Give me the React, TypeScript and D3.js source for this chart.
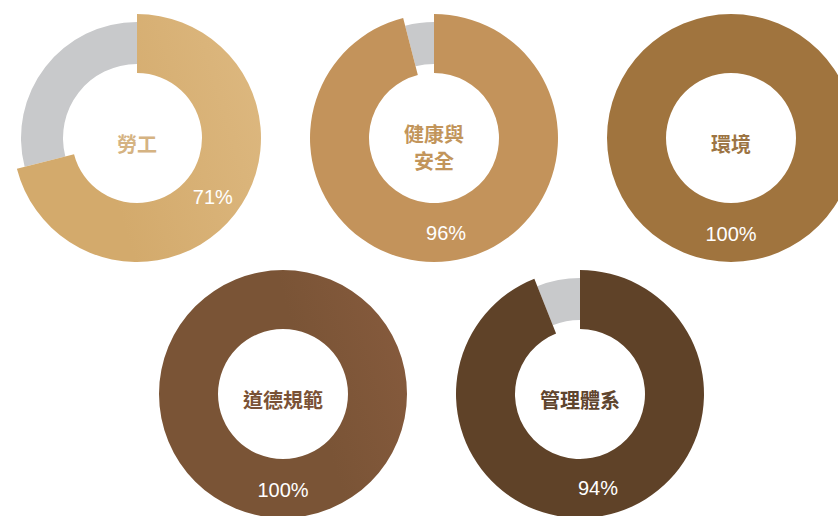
import { arc } from 'd3'

// chart values
const categories = ['勞工', '健康與安全', '環境', '道德規範', '管理體系']
const labelLines = [['勞工'], ['健康與', '安全'], ['環境'], ['道德規範'], ['管理體系']]
const percentages = [71, 96, 100, 100, 94]
const gradientStops = [
	['#d3aa6c', '#e1be88'],
	['#c3935b', '#d6a76d'],
	['#a0743e', '#b68e58'],
	['#7a5436', '#966346'],
	['#5f4228', '#7b5736'],
]
const labelColors = ['#d5b382', '#c2955b', '#9c7443', '#7a5236', '#5f452e']

const width = 838
const height = 516
const centers = [
	[137, 138],
	[434, 138],
	[731, 138],
	[283, 394],
	[580, 394],
]
const filled = { inner: 65, outer: 124 }
const rest = { inner: 74, outer: 116 }
const labelRadius = 96

export default function App() {
	const tau = Math.PI * 2
	const filledArc = arc<{ start: number; end: number }>()
		.innerRadius(filled.inner)
		.outerRadius(filled.outer)
		.startAngle((d) => d.start)
		.endAngle((d) => d.end)
	const restArc = arc<{ start: number; end: number }>()
		.innerRadius(rest.inner)
		.outerRadius(rest.outer)
		.startAngle((d) => d.start)
		.endAngle((d) => d.end)

	return (
		<svg
			width={width}
			height={height}
			style={{ position: 'absolute', left: 0, top: 0, display: 'block' }}
		>
			<defs>
				{categories.map((c, i) => (
					<linearGradient
						key={c}
						id={`grad-${i}`}
						gradientUnits="userSpaceOnUse"
						x1={centers[i][0] - filled.outer}
						y1={centers[i][1] + filled.outer * 0.3}
						x2={centers[i][0] + filled.outer}
						y2={centers[i][1] - filled.outer * 0.3}
					>
						<stop offset="0%" stopColor={gradientStops[i][0]} />
						<stop offset="100%" stopColor={gradientStops[i][1]} />
					</linearGradient>
				))}
			</defs>
			{categories.map((c, i) => {
				const [cx, cy] = centers[i]
				const end = (percentages[i] / 100) * tau
				const mid = end / 2
				const lx = Math.sin(mid) * labelRadius
				const ly = -Math.cos(mid) * labelRadius
				const lines = labelLines[i]
				const lineH = 27
				return (
					<g key={c} transform={`translate(${cx},${cy})`}>
						{percentages[i] < 100 && (
							<path d={restArc({ start: end, end: tau }) ?? ''} fill="#c8c9cb" />
						)}
						<path d={filledArc({ start: 0, end }) ?? ''} fill={`url(#grad-${i})`} />
						{lines.map((line, j) => (
							<text
								key={line}
								x={0}
								y={7 + (j - (lines.length - 1) / 2) * lineH + (lines.length > 1 ? 3 : 0)}
								dy="0.35em"
								textAnchor="middle"
								fontFamily="'Noto Sans CJK TC', 'Noto Sans CJK SC', sans-serif"
								fontSize={20}
								fontWeight={700}
								fill={labelColors[i]}
							>
								{line}
							</text>
						))}
						<text
							x={lx}
							y={ly}
							dy="0.35em"
							textAnchor="middle"
							fontFamily="'Liberation Sans', Arial, sans-serif"
							fontSize={20}
							fill="#ffffff"
						>
							{percentages[i]}%
						</text>
					</g>
				)
			})}
		</svg>
	)
}
